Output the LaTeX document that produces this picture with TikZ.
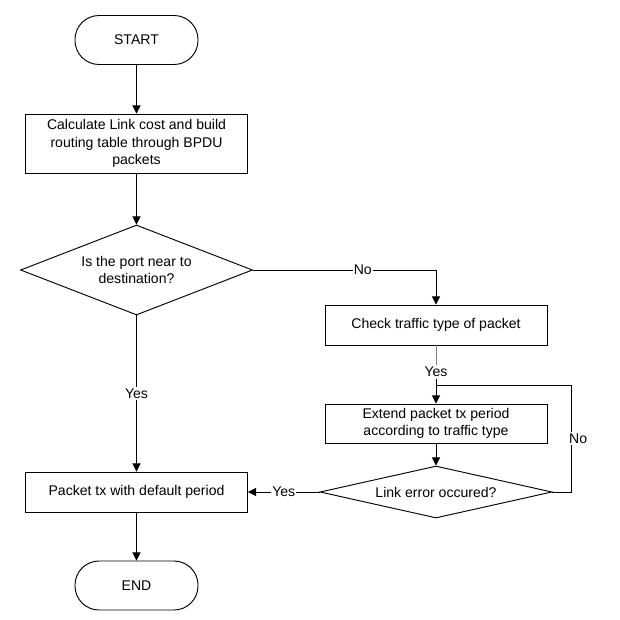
\documentclass[tikz,border=0pt]{standalone}
\usepackage{fontspec}
\setmainfont{Liberation Sans}
\usetikzlibrary{shapes.geometric, arrows.meta}

\begin{document}
\begin{tikzpicture}[x=0.03cm, y=-0.03cm, line width=0.8pt,
        every node/.style={font=\fontsize{12}{15}\selectfont},
        terminal/.style={draw, rounded corners=0.72cm, minimum width=3.69cm, minimum height=1.47cm},
        process/.style={draw, align=center, minimum width=6.66cm, inner sep=2pt},
        decision/.style={draw, diamond, align=center, inner sep=0pt, minimum width=6.96cm},
        flow/.style={-{Triangle[length=7pt, width=7pt]}},
        answer/.style={fill=white, inner sep=1pt}]

        \useasboundingbox (0,0) rectangle (620,620);

        % Left column
        \node[terminal] (start) at (136.5,40) {START};
        \node[process, minimum height=1.77cm] (calc) at (136.5,143.5)
        {Calculate Link cost and build\\routing table through BPDU\\packets};
        \node[decision, aspect=2.58, minimum height=2.7cm] (near) at (136.5,270)
        {Is the port near to\\destination?};
        \node[process, minimum height=1.2cm] (packet) at (136.5,492)
        {Packet tx with default period};
        \node[terminal] (end) at (136.5,585.5) {END};

        % Right column
        \node[process, minimum height=1.2cm] (check) at (436,325)
        {Check traffic type of packet};
        \node[answer] (yes2) at (436,372) {Yes};
        \coordinate (join) at (436,385);
        \node[process, minimum height=1.17cm] (extend) at (436,423.5)
        {Extend packet tx period\\according to traffic type};
        \node[decision, aspect=4.46, minimum height=1.56cm] (linkerr) at (436,492)
        {Link error occured?};

        % Connectors
        \draw[flow] (start) -- (calc);
        \draw[flow] (calc) -- (near);
        \draw[flow] (near) -- (packet) node[midway, answer] {Yes};
        \draw[flow] (packet) -- (end);

        \draw[flow] (near.east) -| (check.north) node[pos=0.3, answer] {No};
        \draw[gray] (check) -- (yes2);
        \draw[flow] (yes2) -- (extend);
        \draw[flow] (extend) -- (linkerr);
        \draw (linkerr.east) -- ++(19,0) |- (join) node[pos=0.25, answer, xshift=0.2cm] {No};
        \draw[flow] (linkerr) -- (packet) node[midway, answer] {Yes};
\end{tikzpicture}
\end{document}
